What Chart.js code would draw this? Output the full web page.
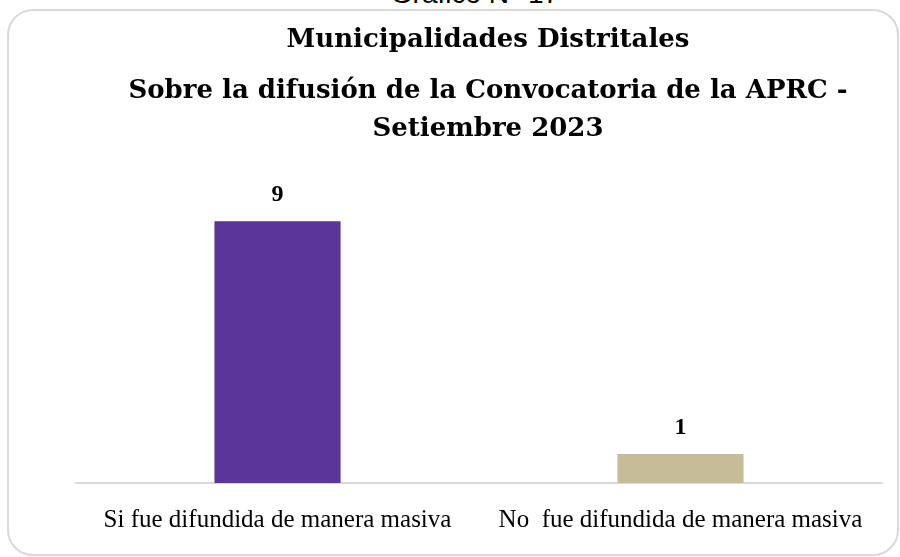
<!DOCTYPE html>
<html>
<head>
<meta charset="utf-8">
<script src="https://cdn.jsdelivr.net/npm/chart.js@4.4.0/dist/chart.umd.min.js"></script>
<style>
  html, body { margin: 0; padding: 0; background: #fff; overflow: hidden; }
  #wrap { position: relative; width: 900px; height: 557px; }
  #card {
    position: absolute; left: 7px; top: 9px; width: 892px; height: 547px;
    border: 2px solid #d9d9d9; border-radius: 26px; box-sizing: border-box;
  }
  #caption {
    position: absolute; left: 0; width: 950px; top: -22px; text-align: center;
    font-family: "Liberation Sans", Arial, sans-serif; font-size: 28px; color: #000;
  }
  canvas { position: absolute; left: 0; top: 0; }
</style>
</head>
<body>
<div id="wrap">
  <div id="caption">Gráfico N° 17</div>
  <div id="card"></div>
  <canvas id="chart" width="900" height="557"></canvas>
</div>
<script>
const categories = ["Si fue difundida de manera masiva", "No  fue difundida de manera masiva"];
const counts = [9, 1];
const barColors = ["#5b3599", "#c5bd97"];

const titleText = "Municipalidades Distritales";
const subtitleLines = ["Sobre la difusión de la Convocatoria de la APRC -", "Setiembre 2023"];

// draws the value above each bar
const valueLabels = {
  id: "valueLabels",
  afterDatasetsDraw(chart) {
    const ctx = chart.ctx;
    const meta = chart.getDatasetMeta(0);
    ctx.save();
    ctx.font = "bold 24px 'Liberation Serif', serif";
    ctx.fillStyle = "#000";
    ctx.textAlign = "center";
    ctx.textBaseline = "middle";
    meta.data.forEach((bar, i) => {
      ctx.fillText(String(counts[i]), bar.x, bar.y - 26);
    });
    ctx.restore();
  }
};

const ctx = document.getElementById("chart").getContext("2d");
new Chart(ctx, {
  type: "bar",
  data: {
    labels: categories,
    datasets: [{
      data: counts,
      backgroundColor: barColors,
      borderWidth: 0,
      barPercentage: 0.313,
      categoryPercentage: 1
    }]
  },
  options: {
    responsive: false,
    animation: false,
    layout: { padding: { left: 76, right: 0, top: 25, bottom: 0 } },
    plugins: {
      legend: { display: false },
      tooltip: { enabled: false },
      title: {
        display: true,
        text: titleText,
        color: "#000",
        font: { family: "'DejaVu Serif', serif", size: 26, weight: "bold" },
        padding: { top: 0, bottom: 16 }
      },
      subtitle: {
        display: true,
        text: subtitleLines,
        color: "#000",
        font: { family: "'DejaVu Serif', serif", size: 26, weight: "bold", lineHeight: 1.46 },
        padding: { top: 0, bottom: 44 }
      }
    },
    scales: {
      x: {
        grid: { display: false, drawTicks: false },
        border: { display: true, color: "#d9d9d9", width: 2 },
        ticks: {
          color: "#000",
          padding: 22,
          maxRotation: 0,
          font: { family: "'Liberation Serif', serif", size: 25 }
        }
      },
      y: {
        position: "right",
        min: 0,
        max: 10,
        grid: { display: false },
        border: { display: false },
        ticks: { display: false },
        afterFit(scale) { scale.width = 18; }
      }
    }
  },
  plugins: [valueLabels]
});
</script>
</body>
</html>
